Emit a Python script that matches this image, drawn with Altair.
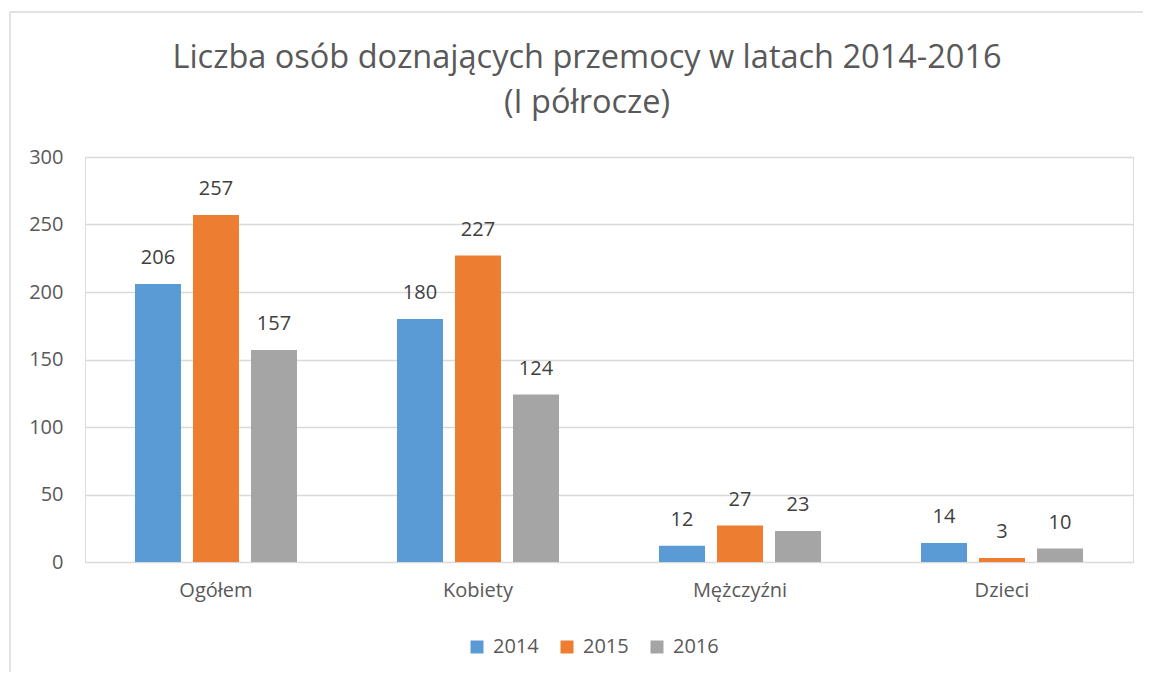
import altair as alt
import pandas as pd

categories = ["Ogółem", "Kobiety", "Mężczyźni", "Dzieci"]
years = ["2014", "2015", "2016"]
v2014 = [206, 180, 12, 14]
v2015 = [257, 227, 27, 3]
v2016 = [157, 124, 23, 10]
colors = ["#5B9BD5", "#ED7D31", "#A5A5A5"]

rows = []
for i, c in enumerate(categories):
    for y, vals in zip(years, [v2014, v2015, v2016]):
        rows.append({"kategoria": c, "rok": y, "wartosc": vals[i]})
df = pd.DataFrame(rows)

FONT = "Open Sans"
TXT = "#595959"

base = alt.Chart(df).encode(
    x=alt.X("kategoria:N", sort=categories, title=None,
            scale=alt.Scale(paddingInner=0.3817, paddingOuter=0.1908),
            axis=alt.Axis(labelAngle=0, labelFontSize=20, labelColor=TXT, labelFont=FONT,
                          labelPadding=18, domain=False, ticks=False, grid=False)),
    xOffset=alt.XOffset("rok:N", sort=years, scale=alt.Scale(paddingInner=0.207, paddingOuter=0)),
)

bars = base.mark_bar().encode(
    y=alt.Y("wartosc:Q", title=None,
            scale=alt.Scale(domain=[0, 300]),
            axis=alt.Axis(values=[0, 50, 100, 150, 200, 250, 300], labelFontSize=20,
                          labelColor=TXT, labelFont=FONT, labelPadding=22,
                          domain=False, ticks=False, gridColor="#D9D9D9", gridWidth=1.5)),
    color=alt.Color("rok:N", sort=years, scale=alt.Scale(domain=years, range=colors),
                    legend=alt.Legend(title=None, orient="none", direction="horizontal",
                                      legendX=382, legendY=480, symbolType="square",
                                      symbolSize=169, symbolStrokeWidth=0,
                                      labelFontSize=20, labelColor=TXT, labelFont=FONT,
                                      labelOffset=6, columnPadding=18)),
)

labels = base.mark_text(fontSize=20, font=FONT, color="#404040", baseline="middle", dy=-26).encode(
    y=alt.Y("wartosc:Q"),
    text=alt.Text("wartosc:Q"),
)

frame_df = pd.DataFrame({"a": [0]})
left_border = alt.Chart(frame_df).mark_rule(color="#D9D9D9", strokeWidth=1.5).encode(
    x=alt.value(-75), y=alt.value(-145), y2=alt.value(530))
top_border = alt.Chart(frame_df).mark_rule(color="#D9D9D9", strokeWidth=1.5).encode(
    x=alt.value(-75), x2=alt.value(1070), y=alt.value(-145))

chart = alt.layer(left_border, top_border, bars, labels).properties(
    width=1048, height=405,
    title=alt.Title(["Liczba osób doznających przemocy w latach 2014-2016", "(I półrocze)"],
                    fontSize=32.5, font=FONT, color=TXT, fontWeight="normal",
                    anchor="middle", dx=-22, lineHeight=45, offset=-134,
                    baseline="alphabetic"),
    autosize=alt.AutoSizeParams(type="none"),
    padding={"left": 77, "top": 149, "right": 10, "bottom": 110},
).configure_view(stroke=None).configure(background="white")

chart.save("out.html", embed_options={"renderer": "svg", "actions": False})
